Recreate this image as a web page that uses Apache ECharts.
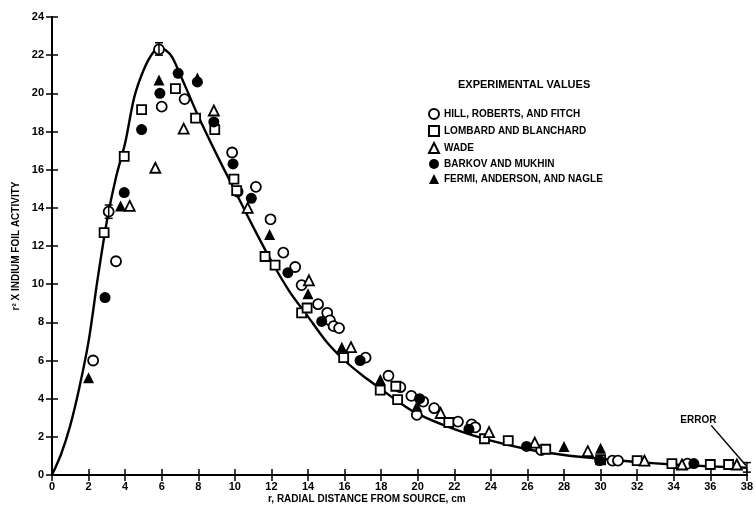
<!DOCTYPE html>
<html>
<head>
<meta charset="utf-8">
<script src="https://cdn.jsdelivr.net/npm/echarts@6/dist/echarts.min.js"></script>
<style>html,body{margin:0;background:#fff}#chart{width:756px;height:510px}</style>
</head>
<body>
<div id="chart"></div>
<script>
// smooth theoretical curve
var curveX = [0, 0.5, 1, 1.5, 2, 2.5, 3, 3.5, 4, 4.5, 5, 5.5, 5.9, 6.5, 7, 7.5, 8, 9, 10, 11, 12, 13, 14, 15, 16, 17, 18, 19, 20, 22, 24, 26, 28, 30, 32, 34, 36, 38];
var curveY = [0, 1.1, 2.6, 4.6, 7.0, 10.3, 13.3, 15.6, 17.4, 19.8, 21.2, 22.1, 22.4, 22.0, 21.0, 19.9, 18.8, 16.8, 14.9, 13.0, 11.2, 9.6, 8.3, 7.0, 6.0, 5.2, 4.5, 3.8, 3.2, 2.4, 1.8, 1.35, 1.05, 0.85, 0.68, 0.55, 0.45, 0.38];

var hrfX = [2.25, 3.1, 3.5, 5.85, 6.0, 7.25, 9.85, 10.15, 11.15, 11.95, 12.65, 13.3, 13.65, 14.55, 15.05, 15.2, 15.4, 15.7, 17.15, 18.4, 19.05, 19.65, 20.3, 19.95, 20.9, 22.2, 22.95, 23.15, 26.75, 30.65, 30.95, 34.75];
var hrfY = [6.0, 13.8, 11.2, 22.3, 19.3, 19.7, 16.9, 14.85, 15.1, 13.4, 11.65, 10.9, 9.95, 8.95, 8.5, 8.1, 7.8, 7.7, 6.15, 5.2, 4.6, 4.15, 3.85, 3.15, 3.5, 2.8, 2.65, 2.5, 1.3, 0.75, 0.75, 0.6];

var lbX = [2.85, 3.95, 4.9, 6.75, 7.85, 8.9, 9.95, 10.1, 11.65, 12.2, 13.65, 13.95, 15.95, 17.95, 18.8, 18.9, 21.7, 23.65, 24.95, 27.0, 30.0, 32.0, 33.9, 36.0, 37.0];
var lbY = [12.7, 16.7, 19.15, 20.25, 18.7, 18.1, 15.5, 14.9, 11.45, 11.0, 8.5, 8.75, 6.15, 4.45, 4.65, 3.95, 2.75, 1.9, 1.8, 1.35, 0.8, 0.75, 0.6, 0.55, 0.55];

var wadeX = [4.25, 5.65, 7.2, 8.85, 10.7, 14.05, 16.35, 21.25, 23.9, 26.4, 29.3, 32.4, 34.45, 37.45];
var wadeY = [14.1, 16.1, 18.15, 19.1, 14.0, 10.2, 6.7, 3.25, 2.25, 1.7, 1.25, 0.75, 0.55, 0.55];

var bmX = [2.9, 3.95, 4.9, 5.9, 6.9, 7.95, 8.85, 9.9, 10.9, 12.9, 14.75, 16.85, 20.1, 22.8, 25.95, 29.95, 35.1];
var bmY = [9.3, 14.8, 18.1, 20.0, 21.05, 20.6, 18.5, 16.3, 14.5, 10.6, 8.05, 6.0, 4.0, 2.4, 1.5, 0.75, 0.6];

var fanX = [2.0, 3.75, 5.85, 7.95, 11.9, 14.0, 15.85, 17.95, 19.95, 28.0, 30.0];
var fanY = [5.1, 14.1, 20.7, 20.8, 12.6, 9.5, 6.7, 5.0, 3.6, 1.5, 1.4];

// error bars
var errX = [3.1, 5.85, 38];
var errLow = [13.45, 22.0, 0.15];
var errHigh = [14.15, 22.65, 0.65];

var names = ['HILL, ROBERTS, AND FITCH', 'LOMBARD AND BLANCHARD', 'WADE', 'BARKOV AND MUKHIN', 'FERMI, ANDERSON, AND NAGLE'];

function pairs(xs, ys) {
    return xs.map(function (x, i) { return [x, ys[i]]; });
}

var font = "'Liberation Sans Narrow', 'Liberation Sans', Arial, sans-serif";

function pointSeries(name, xs, ys, symbol, filled, size) {
    return {
        name: name,
        type: 'scatter',
        data: pairs(xs, ys),
        symbol: symbol,
        symbolSize: size,
        z: 3,
        itemStyle: {
            color: filled ? '#000' : '#fff',
            borderColor: '#000',
            borderWidth: filled ? 0 : 1.8,
            opacity: 1
        }
    };
}

var myChart = echarts.init(document.getElementById('chart'));
var axisLine = { show: true, lineStyle: { color: '#000', width: 2 } };
var tick = { show: true, inside: true, length: 6, lineStyle: { color: '#000', width: 1.5 } };

myChart.setOption({
    animation: false,
    backgroundColor: '#fff',
    textStyle: { fontFamily: font },
    grid: { left: 52, right: 6, top: 17, bottom: 35 },
    xAxis: [{
        type: 'value', min: 0, max: 38, interval: 2,
        axisLine: axisLine, axisTick: tick, splitLine: { show: false },
        axisLabel: { color: '#000', fontWeight: 'bold', fontSize: 11, margin: 6 }
    }, {
        type: 'value', position: 'top', min: 0, max: 38, interval: 2,
        axisLine: axisLine, axisTick: tick, splitLine: { show: false },
        axisLabel: { show: false }
    }],
    yAxis: [{
        type: 'value', min: 0, max: 24, interval: 2,
        name: 'r² X INDIUM FOIL ACTIVITY', nameLocation: 'middle', nameGap: 30,
        nameTextStyle: { color: '#000', fontWeight: 'bold', fontSize: 10 },
        axisLine: axisLine, axisTick: tick, splitLine: { show: false },
        axisLabel: { color: '#000', fontWeight: 'bold', fontSize: 11, margin: 8 }
    }, {
        type: 'value', position: 'right', min: 0, max: 24, interval: 2,
        axisLine: axisLine, axisTick: tick, splitLine: { show: false },
        axisLabel: { show: false }
    }],
    legend: {
        orient: 'vertical', left: 423, top: 103, itemGap: 5,
        itemWidth: 10, itemHeight: 10,
        data: names,
        textStyle: { color: '#000', fontWeight: 'bold', fontSize: 10, fontFamily: font }
    },
    graphic: [{
        type: 'text', left: 458, top: 79,
        style: { text: 'EXPERIMENTAL VALUES', fill: '#000', font: 'bold 11px ' + font }
    }, {
        type: 'text', left: 268, top: 494,
        style: { text: 'r, RADIAL DISTANCE FROM SOURCE, cm', fill: '#000', font: 'bold 10px ' + font }
    }],
    series: [
        {
            name: 'curve', type: 'line', smooth: 0.3, symbol: 'none',
            data: pairs(curveX, curveY), z: 2,
            lineStyle: { color: '#000', width: 2.4 },
            markLine: {
                silent: true, symbol: ['none', 'none'],
                lineStyle: { color: '#000', width: 1.5, type: 'solid' },
                label: { show: false },
                data: [[{ coord: [36.05, 2.6] }, { coord: [37.95, 0.5] }]]
            },
            markPoint: {
                silent: true, symbol: 'circle', symbolSize: 0,
                label: { show: true, position: 'inside', formatter: 'ERROR', color: '#000', fontWeight: 'bold', fontSize: 10 },
                data: [{ coord: [35.35, 2.88] }]
            }
        },
        pointSeries(names[0], hrfX, hrfY, 'circle', false, 10),
        pointSeries(names[1], lbX, lbY, 'rect', false, 9),
        pointSeries(names[2], wadeX, wadeY, 'triangle', false, 10),
        pointSeries(names[3], bmX, bmY, 'circle', true, 11),
        pointSeries(names[4], fanX, fanY, 'triangle', true, 11),
        {
            name: 'error', type: 'custom', z: 4,
            data: errX.map(function (x, i) { return [x, errLow[i], errHigh[i]]; }),
            renderItem: function (params, api) {
                var lo = api.coord([api.value(0), api.value(1)]);
                var hi = api.coord([api.value(0), api.value(2)]);
                var w = 4;
                var st = { stroke: '#000', lineWidth: 1.5 };
                return {
                    type: 'group',
                    children: [
                        { type: 'line', shape: { x1: lo[0], y1: lo[1], x2: hi[0], y2: hi[1] }, style: st },
                        { type: 'line', shape: { x1: lo[0] - w, y1: lo[1], x2: lo[0] + w, y2: lo[1] }, style: st },
                        { type: 'line', shape: { x1: hi[0] - w, y1: hi[1], x2: hi[0] + w, y2: hi[1] }, style: st }
                    ]
                };
            }
        }
    ]
});
</script>
</body>
</html>
